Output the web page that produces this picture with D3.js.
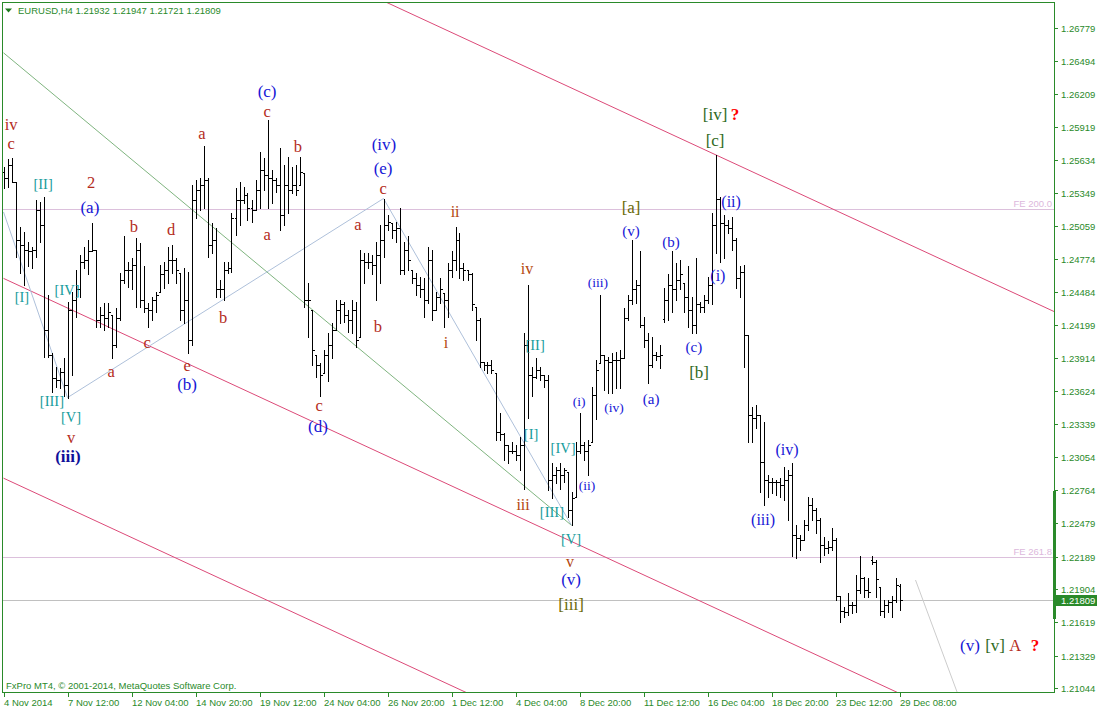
<!DOCTYPE html>
<html>
<head>
<meta charset="utf-8">
<script src="https://cdn.jsdelivr.net/npm/d3@7"></script>
<style>
  body { margin: 0; background: #fff; }
  svg text { font-family: "Liberation Sans", Arial, sans-serif; }
</style>
</head>
<body>
<svg id="chart" width="1097" height="710"></svg>
<script>
// EURUSD H4, 4 Nov 20:00 .. 29 Dec 08:00 (225 bars)
var opens = [1.2553,1.2548,1.2559,1.2544,1.2494,1.2490,1.2485,1.2484,1.2485,1.2520,
  1.2507,1.2416,1.2394,1.2374,1.2372,1.2379,1.2368,1.2433,1.2442,1.2451,
  1.2475,1.2477,1.2484,1.2485,1.2424,1.2429,1.2426,1.2429,1.2403,1.2426,
  1.2459,1.2468,1.2468,1.2472,1.2485,1.2442,1.2435,1.2433,1.2442,1.2449,
  1.2464,1.2468,1.2477,1.2477,1.2465,1.2433,1.2442,1.2407,1.2529,1.2537,
  1.2542,1.2546,1.2490,1.2494,1.2451,1.2451,1.2468,1.2470,1.2513,1.2529,
  1.2529,1.2533,1.2522,1.2520,1.2537,1.2555,1.2550,1.2548,1.2546,1.2542,
  1.2516,1.2542,1.2537,1.2542,1.2542,1.2552,1.2442,1.2433,1.2394,1.2385,
  1.2378,1.2394,1.2403,1.2416,1.2433,1.2438,1.2429,1.2424,1.2433,1.2410,
  1.2477,1.2475,1.2475,1.2472,1.2481,1.2494,1.2507,1.2509,1.2503,1.2504,
  1.2468,1.2485,1.2468,1.2461,1.2455,1.2451,1.2442,1.2477,1.2433,1.2444,
  1.2448,1.2442,1.2468,1.2477,1.2494,1.2470,1.2468,1.2464,1.2436,1.2424,
  1.2388,1.2385,1.2385,1.2378,1.2327,1.2325,1.2316,1.2311,1.2311,1.2307,
  1.2316,1.2403,1.2377,1.2375,1.2381,1.2377,1.2372,1.2285,1.2290,1.2294,
  1.2290,1.2292,1.2259,1.2271,1.2311,1.2316,1.2311,1.2318,1.2359,1.2387,
  1.2394,1.2390,1.2388,1.2390,1.2390,1.2391,1.2426,1.2442,1.2451,1.2455,
  1.2420,1.2407,1.2385,1.2394,1.2393,1.2425,1.2442,1.2455,1.2451,1.2459,
  1.2457,1.2444,1.2433,1.2420,1.2438,1.2436,1.2442,1.2455,1.2507,1.2530,
  1.2509,1.2507,1.2504,1.2494,1.2461,1.2466,1.2411,1.2342,1.2339,1.2342,
  1.2301,1.2285,1.2284,1.2284,1.2284,1.2281,1.2285,1.2290,1.2238,1.2235,
  1.2233,1.2246,1.2264,1.2259,1.2251,1.2229,1.2226,1.2227,1.2233,1.2185,
  1.2172,1.2171,1.2177,1.2177,1.2190,1.2200,1.2190,1.2216,1.2214,1.2192,
  1.2172,1.2177,1.2179,1.2181,1.21932];

var highs = [1.2557,1.2564,1.2565,1.2544,1.2505,1.2501,1.2492,1.2488,1.2529,1.2527,
  1.2531,1.2446,1.2396,1.2384,1.2383,1.2391,1.2440,1.2449,1.2468,1.2481,
  1.2488,1.2494,1.2509,1.2485,1.2436,1.2439,1.2439,1.2429,1.2435,1.2465,
  1.2497,1.2475,1.2478,1.2496,1.2491,1.2471,1.2439,1.2444,1.2449,1.2472,
  1.2475,1.2488,1.2490,1.2478,1.2465,1.2470,1.2466,1.2542,1.2546,1.2548,
  1.2576,1.2548,1.2509,1.2504,1.2459,1.2475,1.2475,1.2517,1.2539,1.2544,
  1.2540,1.2535,1.2529,1.2546,1.2570,1.2565,1.2598,1.2555,1.2548,1.2574,
  1.2559,1.2566,1.2557,1.2559,1.2566,1.2552,1.2457,1.2433,1.2394,1.2387,
  1.2398,1.2413,1.2422,1.2442,1.2442,1.2440,1.2433,1.2442,1.2440,1.2485,
  1.2483,1.2483,1.2481,1.2492,1.2507,1.2530,1.2516,1.2509,1.2510,1.2522,
  1.2492,1.2497,1.2468,1.2465,1.2462,1.2461,1.2488,1.2485,1.2449,1.2461,
  1.2448,1.2474,1.2484,1.2505,1.2500,1.2474,1.2468,1.2465,1.2436,1.2426,
  1.2388,1.2388,1.2390,1.2378,1.2344,1.2326,1.2316,1.2318,1.2316,1.2323,
  1.2413,1.2455,1.2384,1.2391,1.2384,1.2377,1.2377,1.2300,1.2297,1.2300,
  1.2296,1.2292,1.2275,1.2318,1.2344,1.2318,1.2320,1.2366,1.2390,1.2446,
  1.2394,1.2392,1.2396,1.2397,1.2398,1.2435,1.2446,1.2494,1.2459,1.2484,
  1.2427,1.2413,1.2410,1.2397,1.2403,1.2452,1.2464,1.2484,1.2474,1.2477,
  1.2457,1.2471,1.2444,1.2478,1.2440,1.2446,1.2462,1.2517,1.2568,1.2531,
  1.2516,1.2511,1.2514,1.2496,1.2471,1.2472,1.2411,1.2349,1.2351,1.2342,
  1.2336,1.2290,1.2287,1.2285,1.2287,1.2297,1.2294,1.2300,1.2246,1.2238,
  1.2251,1.2271,1.2270,1.2261,1.2252,1.2236,1.2232,1.2244,1.2235,1.2185,
  1.2175,1.2187,1.2179,1.2203,1.2219,1.2201,1.2200,1.2219,1.2216,1.2192,
  1.2181,1.2181,1.2185,1.2200,1.21947];

var lows = [1.2539,1.2540,1.2544,1.2479,1.2465,1.2455,1.2471,1.2470,1.2479,1.2492,
  1.2392,1.2392,1.2362,1.2366,1.2365,1.2358,1.2357,1.2377,1.2427,1.2444,
  1.2470,1.2464,1.2484,1.2418,1.2418,1.2416,1.2418,1.2391,1.2401,1.2424,
  1.2457,1.2453,1.2451,1.2436,1.2436,1.2431,1.2418,1.2424,1.2431,1.2449,
  1.2452,1.2457,1.2465,1.2457,1.2424,1.2422,1.2396,1.2403,1.2513,1.2520,
  1.2522,1.2479,1.2483,1.2444,1.2444,1.2442,1.2465,1.2466,1.2498,1.2507,
  1.2526,1.2511,1.2510,1.2520,1.2522,1.2537,1.2522,1.2526,1.2536,1.2503,
  1.2507,1.2517,1.2535,1.2533,1.2542,1.2436,1.2410,1.2385,1.2375,1.2358,
  1.2378,1.2371,1.2391,1.2416,1.2422,1.2423,1.2414,1.2413,1.2401,1.2410,
  1.2457,1.2470,1.2464,1.2442,1.2457,1.2479,1.2503,1.2496,1.2492,1.2464,
  1.2464,1.2468,1.2457,1.2446,1.2444,1.2427,1.2439,1.2424,1.2433,1.2439,
  1.2418,1.2427,1.2462,1.2468,1.2461,1.2459,1.2459,1.2433,1.2407,1.2384,
  1.2381,1.2378,1.2378,1.2320,1.2320,1.2303,1.2300,1.2309,1.2303,1.2294,
  1.2278,1.2339,1.2358,1.2374,1.2372,1.2366,1.2277,1.2270,1.2283,1.2278,
  1.2284,1.2253,1.2246,1.2271,1.2309,1.2303,1.2290,1.2318,1.2338,1.2387,
  1.2364,1.2361,1.2361,1.2365,1.2365,1.2391,1.2424,1.2438,1.2439,1.2418,
  1.2401,1.2370,1.2384,1.2390,1.2383,1.2423,1.2424,1.2431,1.2442,1.2451,
  1.2431,1.2418,1.2413,1.2413,1.2431,1.2431,1.2439,1.2438,1.2483,1.2475,
  1.2478,1.2500,1.2485,1.2452,1.2444,1.2384,1.2318,1.2318,1.2331,1.2275,
  1.2264,1.2271,1.2274,1.2272,1.2271,1.2268,1.2251,1.2219,1.2218,1.2225,
  1.2233,1.2242,1.2251,1.2239,1.2214,1.2220,1.2222,1.2225,1.2181,1.2162,
  1.2166,1.2168,1.2170,1.2171,1.2187,1.2184,1.2184,1.2212,1.2184,1.2168,
  1.2166,1.2171,1.2166,1.2179,1.21721];

var closes = [1.2548,1.2559,1.2544,1.2494,1.2490,1.2485,1.2484,1.2485,1.2520,1.2507,
  1.2416,1.2394,1.2374,1.2372,1.2379,1.2368,1.2433,1.2442,1.2451,1.2475,
  1.2477,1.2484,1.2485,1.2424,1.2429,1.2426,1.2431,1.2403,1.2426,1.2459,
  1.2468,1.2468,1.2472,1.2485,1.2442,1.2435,1.2433,1.2442,1.2446,1.2464,
  1.2468,1.2477,1.2477,1.2468,1.2433,1.2442,1.2407,1.2529,1.2537,1.2542,
  1.2546,1.2490,1.2494,1.2451,1.2451,1.2468,1.2470,1.2513,1.2529,1.2529,
  1.2533,1.2522,1.2520,1.2537,1.2555,1.2550,1.2548,1.2546,1.2542,1.2516,
  1.2542,1.2537,1.2542,1.2537,1.2553,1.2442,1.2442,1.2398,1.2385,1.2377,
  1.2394,1.2403,1.2416,1.2433,1.2438,1.2429,1.2424,1.2433,1.2407,1.2477,
  1.2475,1.2475,1.2472,1.2481,1.2494,1.2507,1.2510,1.2503,1.2504,1.2468,
  1.2485,1.2477,1.2461,1.2455,1.2451,1.2442,1.2477,1.2433,1.2444,1.2451,
  1.2442,1.2468,1.2477,1.2494,1.2470,1.2468,1.2464,1.2438,1.2424,1.2388,
  1.2385,1.2385,1.2381,1.2327,1.2325,1.2316,1.2311,1.2311,1.2307,1.2316,
  1.2403,1.2377,1.2375,1.2381,1.2377,1.2372,1.2285,1.2290,1.2294,1.2290,
  1.2294,1.2259,1.2270,1.2311,1.2316,1.2311,1.2316,1.2359,1.2381,1.2394,
  1.2390,1.2388,1.2390,1.2390,1.2391,1.2426,1.2442,1.2451,1.2455,1.2420,
  1.2407,1.2385,1.2394,1.2393,1.2394,1.2442,1.2455,1.2451,1.2459,1.2464,
  1.2444,1.2433,1.2420,1.2438,1.2436,1.2442,1.2455,1.2507,1.2530,1.2509,
  1.2507,1.2504,1.2494,1.2461,1.2466,1.2411,1.2342,1.2339,1.2342,1.2301,
  1.2285,1.2284,1.2284,1.2284,1.2281,1.2285,1.2290,1.2238,1.2235,1.2233,
  1.2246,1.2264,1.2259,1.2251,1.2229,1.2226,1.2227,1.2233,1.2185,1.2172,
  1.2171,1.2177,1.2177,1.2190,1.2200,1.2190,1.2188,1.2214,1.2199,1.2172,
  1.2177,1.2179,1.2181,1.2194,1.21809];

var timeLabels = ["4 Nov 2014","7 Nov 12:00","12 Nov 04:00","14 Nov 20:00","19 Nov 12:00",
  "24 Nov 04:00","26 Nov 20:00","1 Dec 12:00","4 Dec 04:00","8 Dec 20:00",
  "11 Dec 12:00","16 Dec 04:00","18 Dec 20:00","23 Dec 12:00","29 Dec 08:00"];
var barsPerLabel = 16;

var priceTicks = [1.26779,1.26494,1.26209,1.25919,1.25634,1.25349,1.25059,1.24774,1.24484,
  1.24199,1.23914,1.23624,1.23339,1.23054,1.22764,1.22479,1.22189,1.21904,1.21619,1.21329,1.21044];

var lastPrice = 1.21809;
var fibLevels = [["FE 200.0", 1.25209], ["FE 261.8", 1.22185]];

// trend objects: [bar index, price] points
var channelLines = [
  [[80, 1.27258], [263, 1.24312]],
  [[0, 1.24606], [240, 1.20742]],
  [[0, 1.22870], [140, 1.20616]]
];
var greenLine = [[0, 1.26566], [142, 1.2246]];
var zigzag = [[0, 1.25183], [16, 1.2357], [95, 1.2530], [142, 1.2246]];
var projection = [[228, 1.21985], [240, 1.20861]];

// wave labels: [text, kind, bar index, price]
var waveLabels = [
  ["iv","red",1.9,1.25947], ["c","red",1.9,1.25782], ["2","red",21.9,1.25435],
  ["v","red",16.9,1.23227], ["a","red",26.9,1.23801], ["c","red",35.9,1.24053],
  ["b","red",32.6,1.25061], ["d","red",41.9,1.25035], ["e","red",45.9,1.23853],
  ["a","red",49.6,1.25861], ["b","red",54.9,1.24262], ["c","red",65.9,1.26060],
  ["a","red",65.9,1.24983], ["b","red",73.6,1.25748], ["c","red",78.9,1.23505],
  ["c","red",94.9,1.25391], ["a","red",88.6,1.25078], ["b","red",93.6,1.24192],
  ["ii","brown",112.9,1.25183], ["i","brown",110.6,1.24053], ["iv","brown",130.9,1.24696],
  ["iii","brown",129.9,1.22637], ["v","brown",141.6,1.22150],
  ["(a)","blueL",21.6,1.25226], ["(iii)","blueBold",16.1,1.23062], ["(b)","blueL",45.9,1.23688],
  ["(c)","blueL",65.9,1.26234], ["(iv)","blueL",95.1,1.25765], ["(e)","blueL",94.9,1.25565],
  ["(d)","blueL",78.6,1.23323], ["(v)","blueL",141.9,1.21993],
  ["(iii)","blueXS",148.6,1.24566], ["(v)","blueS",156.9,1.25018], ["(b)","blueS",166.9,1.24922],
  ["(i)","blueXS",143.9,1.23532], ["(iv)","blueXS",152.6,1.23488], ["(a)","blueS",161.9,1.23558],
  ["(ii)","blueXS",145.9,1.22802], ["(c)","blueS",172.6,1.24010],
  ["(ii)","blueM",181.9,1.25270], ["(i)","blueM",178.6,1.24635],
  ["(iv)","blueM",195.9,1.23115], ["(iii)","blueM",189.9,1.22515],
  ["[II]","teal",9.9,1.25426], ["[I]","teal",4.6,1.24444], ["[IV]","teal",15.9,1.24505],
  ["[III]","teal",12.1,1.23540], ["[V]","teal",16.9,1.23401],
  ["[II]","teal",132.9,1.24027], ["[I]","teal",131.9,1.23254], ["[IV]","teal",139.9,1.23132],
  ["[III]","teal",137.1,1.22576], ["[V]","teal",141.9,1.22341],
  ["[iv]","green",177.9,1.26026], ["[c]","green",177.9,1.25808], ["[a]","olive",156.9,1.25226],
  ["[b]","green",173.9,1.23792], ["[iii]","olive",141.9,1.21768],
  ["?","q",182.9,1.26026],
  ["(v)","blueL",241.6,1.21420], ["[v]","green",247.9,1.21420],
  ["A","red",252.9,1.21420], ["?","q",257.9,1.21420]
];

var labelStyle = {
  red:      { fill: "#b42c1c", size: 16.5 },
  brown:    { fill: "#b4460e", size: 16 },
  blueL:    { fill: "#1616d6", size: 17 },
  blueM:    { fill: "#1616d6", size: 16 },
  blueS:    { fill: "#1616d6", size: 15 },
  blueXS:   { fill: "#1616d6", size: 13.5 },
  blueBold: { fill: "#10109a", size: 17, weight: "bold" },
  teal:     { fill: "#169c9c", size: 14.5 },
  green:    { fill: "#2f6a24", size: 17 },
  olive:    { fill: "#6a6a08", size: 17 },
  q:        { fill: "#ff0000", size: 17, weight: "bold" }
};

var svg = d3.select("#chart"),
    width = 1097,
    height = 710,
    axisGreen = "#2a8a2a",
    plotL = 2.5, plotT = 2.5, plotR = 1054.5, plotB = 692.5;

var x = d3.scaleLinear().domain([0, 224]).range([3.5, 899.5]);
var y = d3.scaleLinear().domain([1.21044, 1.26779]).range([688.3, 28.3]);

svg.append("rect").attr("width", width).attr("height", height).attr("fill", "#fff");

svg.append("defs").append("clipPath").attr("id", "plotclip")
  .append("rect").attr("x", plotL).attr("y", plotT)
  .attr("width", plotR - plotL).attr("height", plotB - plotT);

var objects = svg.append("g").attr("clip-path", "url(#plotclip)");
var line = d3.line().x(d => x(d[0])).y(d => y(d[1]));

// horizontal levels
fibLevels.forEach(function(f) {
  objects.append("line")
    .attr("x1", plotL).attr("x2", plotR)
    .attr("y1", Math.round(y(f[1])) + 0.5).attr("y2", Math.round(y(f[1])) + 0.5)
    .attr("stroke", "#dcc0dc").attr("shape-rendering", "crispEdges");
  svg.append("text")
    .attr("x", 1052).attr("y", Math.round(y(f[1])) - 2)
    .attr("text-anchor", "end").attr("font-size", "9.5px")
    .attr("fill", "#dcb8dc").text(f[0]);
});
objects.append("line")
  .attr("x1", plotL).attr("x2", plotR)
  .attr("y1", Math.round(y(lastPrice)) + 0.5).attr("y2", Math.round(y(lastPrice)) + 0.5)
  .attr("stroke", "#c0c0c0").attr("shape-rendering", "crispEdges");

channelLines.forEach(function(c) {
  objects.append("path").attr("d", line(c))
    .attr("fill", "none").attr("stroke", "#dc4a78").attr("stroke-width", 1);
});
objects.append("path").attr("d", line(greenLine))
  .attr("fill", "none").attr("stroke", "#70ac70").attr("stroke-width", 0.9);
objects.append("path").attr("d", line(zigzag))
  .attr("fill", "none").attr("stroke", "#aec0da").attr("stroke-width", 1);
objects.append("path").attr("d", line(projection))
  .attr("fill", "none").attr("stroke", "#cccccc").attr("stroke-width", 1);

// OHLC bars
var bars = d3.range(opens.length).map(function(i) {
  return { i: i, o: opens[i], h: highs[i], l: lows[i], c: closes[i] };
});
svg.append("g")
  .attr("stroke", "#000").attr("stroke-width", 1).attr("shape-rendering", "crispEdges")
  .selectAll("path").data(bars).join("path")
  .attr("fill", "none")
  .attr("d", function(d) {
    var px = Math.round(x(d.i)) + 0.5,
        yh = Math.round(y(d.h)), yl = Math.round(y(d.l)) + 1,
        yo = Math.round(y(d.o)) + 0.5, yc = Math.round(y(d.c)) + 0.5;
    return "M" + px + "," + yh + "V" + yl +
           "M" + (px - 2) + "," + yo + "H" + px +
           "M" + px + "," + yc + "H" + (px + 2);
  });

// wave labels
svg.append("g").selectAll("text").data(waveLabels).join("text")
  .attr("x", d => x(d[2]))
  .attr("y", d => y(d[3]))
  .attr("text-anchor", "middle")
  .attr("dominant-baseline", "central")
  .style("font-family", "'Liberation Serif', 'Times New Roman', serif")
  .style("font-size", d => labelStyle[d[1]].size + "px")
  .style("font-weight", d => labelStyle[d[1]].weight || "normal")
  .attr("fill", d => labelStyle[d[1]].fill)
  .text(d => d[0]);

// frame
svg.append("rect")
  .attr("x", plotL).attr("y", plotT)
  .attr("width", plotR - plotL).attr("height", plotB - plotT)
  .attr("fill", "none").attr("stroke", axisGreen).attr("shape-rendering", "crispEdges");

// price axis
var py = svg.append("g").attr("shape-rendering", "crispEdges");
priceTicks.forEach(function(p) {
  var yy = Math.round(y(p)) + 0.5;
  py.append("line").attr("x1", plotR).attr("x2", plotR + 3.5)
    .attr("y1", yy).attr("y2", yy).attr("stroke", axisGreen);
  svg.append("text").attr("x", 1061).attr("y", yy + 3.5)
    .attr("font-size", "9.5px").attr("fill", axisGreen).text(p.toFixed(5));
});
svg.append("rect").attr("x", plotR - 1.5).attr("y", Math.round(y(1.22764)) + 1)
  .attr("width", 3).attr("height", Math.round(y(1.21655)) - Math.round(y(1.22764)))
  .attr("fill", axisGreen);
var lastY = Math.round(y(lastPrice));
svg.append("rect").attr("x", plotR + 0.5).attr("y", lastY - 5)
  .attr("width", width - plotR).attr("height", 11).attr("fill", axisGreen);
svg.append("text").attr("x", 1061).attr("y", lastY + 4)
  .attr("font-size", "9.5px").attr("fill", "#fff").text(lastPrice.toFixed(5));

// time axis
timeLabels.forEach(function(t, k) {
  var tx = Math.round(x(k * barsPerLabel)) + 0.5;
  py.append("line").attr("x1", tx).attr("x2", tx)
    .attr("y1", plotB).attr("y2", plotB + 4.5).attr("stroke", axisGreen);
  svg.append("text").attr("x", tx - 0.5).attr("y", 706)
    .attr("font-size", "9.5px").attr("fill", axisGreen).text(t);
});

// header and footer
svg.append("path").attr("d", "M5,8.5L12,8.5L8.5,12.5Z").attr("fill", "#1e7a1e");
svg.append("text").attr("x", 18).attr("y", 14)
  .attr("font-size", "9.5px").attr("fill", axisGreen)
  .text("EURUSD,H4  1.21932 1.21947 1.21721 1.21809");
svg.append("text").attr("x", 6).attr("y", 689)
  .attr("font-size", "9.5px").attr("fill", axisGreen)
  .text("FxPro MT4, \u00A9 2001-2014, MetaQuotes Software Corp.");
</script>
</body>
</html>
